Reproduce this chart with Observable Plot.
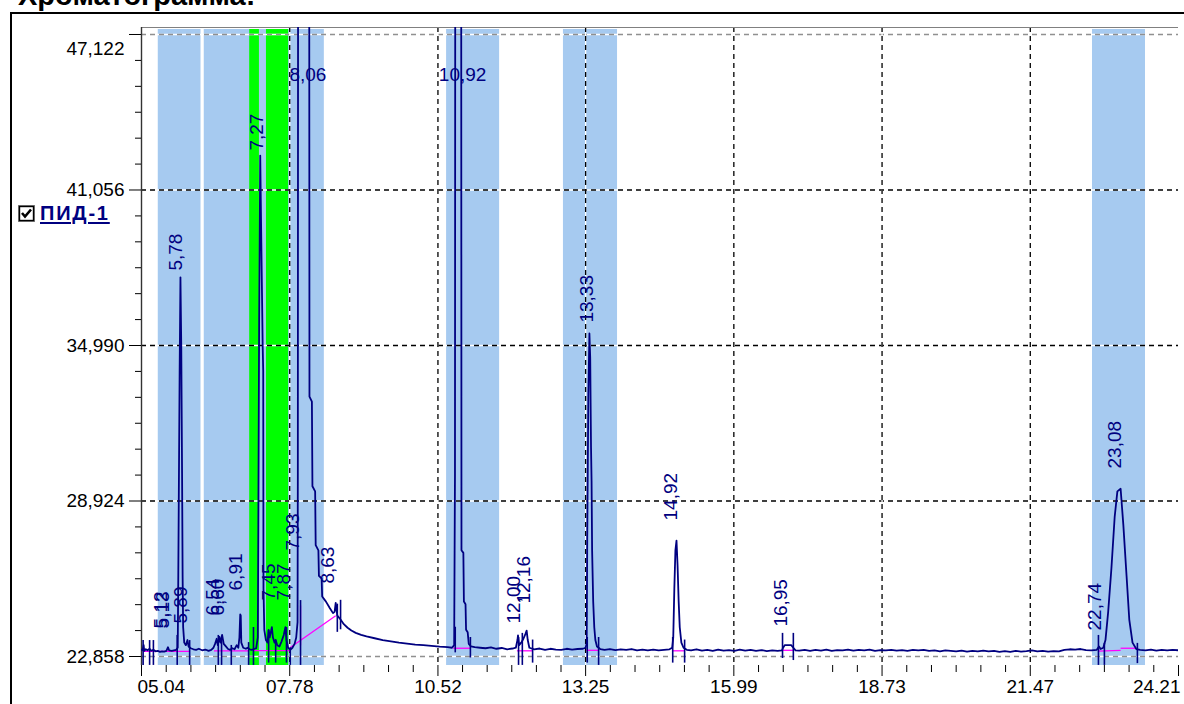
<!DOCTYPE html>
<html><head><meta charset="utf-8">
<script src="https://cdn.jsdelivr.net/npm/d3@7"></script>
<script src="https://cdn.jsdelivr.net/npm/@observablehq/plot@0.6"></script>
<style>
body{margin:0;background:#fff;width:1184px;height:704px;overflow:hidden;position:relative;font-family:"Liberation Sans",Arial,sans-serif}
#chart{position:absolute;left:0;top:0}
#title{position:absolute;left:18px;top:-19px;font:bold 29px/29px "Liberation Sans",Arial,sans-serif;white-space:nowrap;color:#000}
#frameTop{position:absolute;left:10px;top:12px;width:1174px;height:0;border-top:2px solid #000}
#frameLeft{position:absolute;left:10px;top:12px;width:0;height:692px;border-left:2px solid #000}
#legend{position:absolute;left:18px;top:203px;display:flex;align-items:center;height:20px}
#legend span{margin-left:5px;font:bold 20px "Liberation Sans",Arial,sans-serif;letter-spacing:1.8px;color:#000080;text-decoration:underline;text-decoration-thickness:2px;text-underline-offset:2px}
</style></head>
<body>
<div id="title">Хроматограмма:</div>
<div id="frameTop"></div>
<div id="frameLeft"></div>
<div id="chart"></div>
<div id="legend"><svg width="17" height="17"><rect x="0.5" y="0.5" width="16" height="16" fill="#fff" stroke="#808080"/><rect x="1.5" y="1.5" width="14" height="14" fill="none" stroke="#000" stroke-width="1.4"/><polyline points="4,8 7,11.5 13,4.5" fill="none" stroke="#000" stroke-width="2.6"/></svg><span>ПИД-1</span></div>
<script>
// ---- axis tick labels ----
const xTickLabels = ["05.04","07.78","10.52","13.25","15.99","18.73","21.47","24.21"];
const yTickLabels = ["22,858","28,924","34,990","41,056","47,122"];

// ---- shaded windows (minutes) ----
const blueBandStart = [5.35, 6.20, 10.68, 12.84, 22.62];
const blueBandEnd   = [6.14, 8.42, 11.66, 13.84, 23.60];
const greenBandStart = [7.04, 7.35];
const greenBandEnd   = [7.22, 7.76];

// ---- detector signal [time, value] ----
const trace = [
[5.04,23.12],[5.06,23.10],[5.08,23.30],[5.09,23.08],[5.12,23.14],[5.15,23.10],[5.19,23.16],[5.22,23.08],[5.26,23.12],[5.30,23.06],
[5.34,23.08],[5.38,23.04],[5.42,23.06],[5.46,23.05],[5.50,23.08],[5.53,23.22],[5.55,23.10],[5.60,23.08],[5.64,23.10],[5.68,23.12],
[5.71,23.2],[5.72,26.0],[5.745,34.0],[5.76,37.65],[5.775,35.0],[5.79,30.0],[5.80,26.0],[5.81,24.0],[5.83,23.4],[5.86,23.3],
[5.89,23.5],[5.91,23.25],[5.95,23.18],[6.00,23.14],[6.05,23.12],[6.10,23.16],[6.16,23.10],[6.22,23.13],[6.28,23.08],[6.33,23.12],
[6.37,23.20],[6.40,23.35],[6.43,23.55],[6.45,23.3],[6.48,23.62],[6.50,23.4],[6.53,23.7],[6.56,23.35],[6.60,23.25],[6.64,23.15],
[6.68,23.12],[6.72,23.18],[6.76,23.14],[6.80,23.30],[6.83,23.2],[6.85,23.6],[6.865,24.5],[6.875,24.45],[6.885,23.4],[6.92,23.2],
[6.97,23.16],[7.00,23.2],[7.04,23.14],[7.08,23.12],[7.12,23.15],[7.16,23.18],[7.19,23.6],
[7.20,28.0],[7.215,36.0],[7.235,42.4],[7.255,39.0],[7.28,35.0],[7.29,34.0],[7.295,25.5],[7.31,23.9],[7.34,23.5],[7.37,23.4],
[7.39,23.9],[7.41,23.6],[7.43,23.8],[7.45,24.0],[7.47,23.6],[7.50,23.4],[7.52,23.5],[7.55,23.3],[7.59,23.25],[7.63,23.45],
[7.67,23.7],[7.70,24.0],[7.72,23.5],[7.75,23.2],[7.79,23.12],[7.83,23.2],[7.87,23.35],[7.90,23.6],[7.925,24.2],
[7.93,30.0],[7.935,52.0],[8.06,62.0],[8.14,52.0],[8.145,33.0],[8.19,32.8],[8.20,29.5],[8.25,29.3],[8.26,27.2],[8.31,27.0],
[8.32,26.0],[8.37,25.9],[8.38,25.2],[8.45,25.0],[8.52,24.75],[8.58,24.55],[8.61,24.6],[8.63,24.95],[8.66,24.45],[8.72,24.3],
[8.78,24.12],[8.85,23.98],[8.92,23.87],[9.0,23.78],[9.1,23.7],[9.2,23.64],[9.35,23.57],[9.5,23.5],[9.65,23.45],[9.8,23.4],
[9.95,23.36],[10.1,23.32],[10.25,23.3],[10.4,23.27],[10.55,23.24],[10.7,23.22],[10.78,23.2],[10.82,23.3],
[10.835,30.0],[10.84,50.0],[10.92,64.0],[10.95,50.0],[10.955,27.0],[10.99,26.9],[11.0,25.0],[11.03,24.9],[11.04,23.9],[11.07,23.8],
[11.09,23.35],[11.13,23.25],[11.2,23.22],[11.3,23.2],[11.4,23.18],[11.5,23.21],[11.6,23.16],[11.7,23.19],[11.8,23.14],[11.9,23.17],
[11.96,23.2],[11.99,23.5],[12.00,23.68],[12.02,23.3],[12.06,23.4],[12.10,23.55],[12.14,23.75],[12.16,23.87],[12.18,23.5],[12.21,23.2],
[12.3,23.14],[12.4,23.17],[12.5,23.12],[12.6,23.16],[12.7,23.13],[12.8,23.12],[12.9,23.16],[13.0,23.13],[13.1,23.15],[13.2,23.16],
[13.25,23.2],[13.27,23.4],[13.28,27.5],[13.30,33.0],[13.32,35.46],[13.335,34.5],[13.35,31.0],[13.36,29.7],[13.37,27.0],[13.39,25.0],
[13.41,24.0],[13.43,23.5],[13.46,23.25],[13.52,23.15],[13.6,23.12],[13.7,23.15],[13.8,23.11],[13.9,23.14],[14.0,23.12],[14.1,23.15],
[14.2,23.1],[14.3,23.13],[14.4,23.1],[14.5,23.13],[14.6,23.1],[14.7,23.12],[14.8,23.14],[14.85,23.2],
[14.87,23.6],[14.89,25.5],[14.91,27.0],[14.93,27.38],[14.95,26.4],[14.97,25.0],[14.99,24.0],[15.02,23.4],[15.06,23.2],[15.12,23.12],
[15.2,23.1],[15.3,23.14],[15.4,23.09],[15.5,23.12],[15.6,23.08],[15.7,23.13],[15.8,23.09],[15.9,23.11],[16.0,23.08],[16.1,23.13],
[16.2,23.09],[16.3,23.12],[16.4,23.08],[16.5,23.11],[16.6,23.07],[16.7,23.1],[16.8,23.08],[16.88,23.1],
[16.9,23.2],[16.93,23.3],[17.05,23.3],[17.09,23.2],[17.13,23.1],[17.2,23.09],[17.3,23.12],[17.4,23.08],[17.5,23.12],[17.6,23.09],
[17.7,23.13],[17.8,23.08],[17.9,23.11],[18.0,23.1],[18.1,23.13],[18.2,23.09],[18.3,23.12],[18.4,23.1],[18.5,23.13],[18.6,23.08],
[18.7,23.11],[18.8,23.1],[18.9,23.12],[19.0,23.09],[19.1,23.11],[19.2,23.08],[19.3,23.12],[19.4,23.1],[19.5,23.12],[19.6,23.08],
[19.7,23.1],[19.8,23.06],[19.9,23.1],[20.0,23.08],[20.1,23.06],[20.2,23.09],[20.3,23.05],[20.4,23.08],[20.5,23.06],[20.6,23.09],
[20.7,23.06],[20.8,23.08],[20.9,23.04],[21.0,23.07],[21.1,23.04],[21.2,23.08],[21.3,23.05],[21.4,23.07],[21.5,23.1],[21.6,23.06],
[21.7,23.08],[21.8,23.05],[21.9,23.07],[22.0,23.06],[22.1,23.12],[22.2,23.14],[22.3,23.13],[22.4,23.15],[22.5,23.11],[22.6,23.1],
[22.7,23.12],[22.74,23.25],[22.77,23.15],[22.82,23.2],[22.86,23.5],[22.91,24.6],[22.97,26.3],[23.03,28.3],[23.08,29.3],[23.14,29.4],
[23.19,28.0],[23.25,26.0],[23.30,24.3],[23.36,23.4],[23.43,23.15],[23.5,23.12],[23.6,23.1],[23.7,23.13],[23.8,23.09],[23.9,23.12],
[24.0,23.1],[24.1,23.12],[24.21,23.1]
];

// ---- integration baselines [t1, v1, t2, v2] ----
const baselines = [
[5.07,23.06,5.93,23.06],[6.38,23.08,7.02,23.08],[7.11,23.09,7.79,23.09],
[7.79,23.21,8.63,24.45],[7.98,23.29,7.98,24.85],
[10.80,23.18,11.12,23.18],[11.98,23.08,12.27,23.08],[13.26,23.1,13.49,23.1],
[14.86,23.08,15.08,23.08],[16.89,23.1,17.09,23.1],[22.73,23.07,23.14,23.1],[23.14,23.18,23.45,23.18]
];

// ---- peak start/end markers [time, low, high] ----
const markers = [
[5.07,22.51,23.48],[5.19,22.51,23.48],[5.26,22.51,23.48],[5.70,22.51,23.68],[5.93,22.51,23.48],[6.46,22.51,23.68],
[6.52,22.51,23.55],[6.70,22.51,23.29],[7.02,22.51,23.40],[7.11,22.51,23.99],[7.39,22.6,23.87],[7.52,22.6,23.5],
[7.72,22.6,23.99],[7.79,22.51,23.2],[7.98,22.51,25.04],[8.66,23.80,24.90],[8.72,23.9,25.05],[10.84,23.0,24.0],
[11.12,22.8,23.6],[12.01,22.51,23.60],[12.08,22.51,23.76],[12.27,22.6,23.5],[13.28,22.6,23.6],[13.49,22.51,23.6],
[14.86,22.6,23.6],[15.08,22.6,23.5],[16.89,22.78,23.76],[17.09,22.70,23.76],[22.73,22.51,23.68],[22.84,22.51,23.37],[23.45,22.58,23.37]
];

// ---- peak labels (rotated): text, time, apex ----
const peakText   = ["5,12","5,13","5,78","5,89","6,54","6,60","6,91","7,27","7,45","7,87","7,93","8,63","12,00","12,16","13,33","14,92","16,95","22,74","23,08"];
const peakTime   = [5.50, 5.53, 5.76, 5.86, 6.45, 6.55, 6.87, 7.27, 7.49, 7.77, 7.93, 8.57, 12.01, 12.21, 13.36, 14.92, 16.95, 22.76, 23.13];
const peakHeight = [23.72,23.72,37.68,23.91,24.22,24.22,25.2, 42.36,24.81,24.81,26.76,25.47,23.91, 24.69, 35.65, 27.93, 23.79, 23.64, 29.96];
// off-scale peaks (horizontal labels)
const bigPeakText = ["8,06","10,92"];
const bigPeakTime = [8.06, 10.92];

// ---------- build ----------
const navy = "#000080";
const xTicks = xTickLabels.map(Number);
const yTicks = yTickLabels.map(s => +s.replace(",", "."));
const xMinor = [], yMinor = [];
for (let i = 0; i < xTicks.length - 1; i++) for (let k = 1; k < 6; k++) xMinor.push(xTicks[i] + (xTicks[i+1]-xTicks[i])*k/6);
for (let i = 0; i < yTicks.length - 1; i++) for (let k = 1; k < 6; k++) yMinor.push(yTicks[i] + (yTicks[i+1]-yTicks[i])*k/6);
const yDomain = [22.507, 47.395];
const bands = blueBandStart.map((s, i) => ({s, e: blueBandEnd[i]}));
const greens = greenBandStart.map((s, i) => ({s, e: greenBandEnd[i]}));
const labels = peakText.map((t, i) => ({t, x: peakTime[i], y: peakHeight[i]}));
const bigLabels = bigPeakText.map((t, i) => ({t, x: bigPeakTime[i]}));
const xLab = xTickLabels.map((t, i) => ({t, x: xTicks[i]}));
const yLab = yTickLabels.map((t, i) => ({t, y: yTicks[i]}));
const gridX = xTicks.slice(1, -1);
const gridY = yTicks.slice(1, -1);
const edgeY = [yTicks[0], yTicks[yTicks.length - 1]];

const chart = Plot.plot({
  width: 1184, height: 704,
  marginLeft: 141, marginRight: 6, marginTop: 27, marginBottom: 39,
  x: {domain: [xTicks[0], xTicks[xTicks.length - 1]]},
  y: {domain: yDomain},
  style: {fontFamily: "'Liberation Sans', Arial, sans-serif", fontSize: "19px", background: "transparent", overflow: "visible"},
  marks: [
    Plot.rect(bands, {x1: "s", x2: "e", y1: yDomain[0], y2: 47.317, fill: "#A6CAF0"}),
    Plot.rect(greens, {x1: "s", x2: "e", y1: yDomain[0], y2: 47.317, fill: "#00FF00"}),
    Plot.ruleY(gridY, {stroke: "#fff", strokeWidth: 1.3}),
    Plot.ruleY(gridY, {stroke: "#000", strokeWidth: 1.3, strokeDasharray: "5,4"}),
    Plot.ruleY(edgeY, {stroke: "#fff", strokeWidth: 1.3}),
    Plot.ruleY(edgeY, {stroke: "#909090", strokeWidth: 1.3, strokeDasharray: "5,4"}),
    Plot.ruleX(gridX, {stroke: "#fff", strokeWidth: 1.3}),
    Plot.ruleX(gridX, {stroke: "#000", strokeWidth: 1.3, strokeDasharray: "5,4"}),
    Plot.ruleY([yDomain[1]], {stroke: "#808080", strokeWidth: 1.2}),
    Plot.ruleX([xTicks[0]], {stroke: "#333", strokeWidth: 1.4}),
    Plot.axisX({ticks: xTicks, tickSize: 11, fill: "none", label: null, stroke: "#000"}),
    Plot.axisX({ticks: xMinor, tickSize: 7, fill: "none", label: null, stroke: "#000"}),
    Plot.axisY({ticks: yTicks, tickSize: 12, fill: "none", label: null, stroke: "#000"}),
    Plot.axisY({ticks: yMinor, tickSize: 6, fill: "none", label: null, stroke: "#000"}),
    Plot.link(baselines, {x1: d => d[0], y1: d => d[1], x2: d => d[2], y2: d => d[3], stroke: "#FF00FF", strokeWidth: 1.3}),
    Plot.line(trace, {x: d => d[0], y: d => d[1], stroke: navy, strokeWidth: 1.8, clip: true}),
    Plot.ruleX(markers, {x: d => d[0], y1: d => d[1], y2: d => d[2], stroke: navy, strokeWidth: 1.6}),
    Plot.text(labels, {x: "x", y: "y", text: "t", rotate: -90, textAnchor: "start", dx: -5, dy: -6, fill: navy, fontSize: 19}),
    Plot.text(bigLabels, {x: "x", y: 45.54, text: "t", textAnchor: "middle", dx: 3, fill: navy, fontSize: 19}),
    Plot.text(xLab.slice(0, 1), {x: "x", text: "t", frameAnchor: "bottom", dy: 27, dx: -4, textAnchor: "start", fill: "#000"}),
    Plot.text(xLab.slice(1, -1), {x: "x", text: "t", frameAnchor: "bottom", dy: 27, textAnchor: "middle", fill: "#000"}),
    Plot.text(xLab.slice(-1), {x: "x", text: "t", frameAnchor: "bottom", dy: 27, dx: 2, textAnchor: "end", fill: "#000"}),
    Plot.text(yLab.slice(0, -1), {y: "y", text: "t", frameAnchor: "left", dx: -17, textAnchor: "end", fill: "#000"}),
    Plot.text(yLab.slice(-1), {y: "y", text: "t", frameAnchor: "left", dx: -17, dy: 14, textAnchor: "end", fill: "#000"})
  ]
});
document.getElementById("chart").appendChild(chart);
</script>
</body></html>
